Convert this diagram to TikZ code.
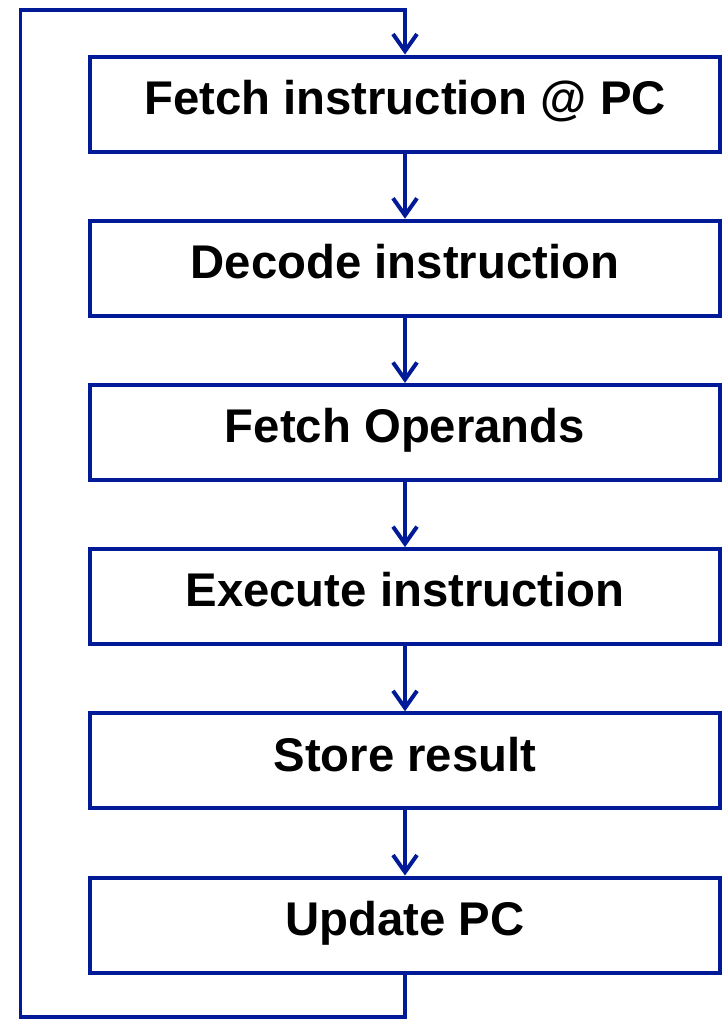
\documentclass[tikz,border=0pt]{standalone}
\usepackage{fontspec}
\setmainfont{Liberation Sans}
\usetikzlibrary{arrows.meta}
\definecolor{flowblue}{RGB}{0,26,152}
\tikzset{
  stagebox/.style={draw=flowblue, line width=4pt, minimum width=630pt, minimum height=95pt,
    inner sep=0pt, text height=34pt, text depth=13.4pt,
    font=\fontsize{47.3}{56}\selectfont\bfseries, text=black},
  flowarrow/.style={draw=flowblue, line width=4pt,
    -{Straight Barb[length=17pt,width=24pt,line width=4pt]}},
  loopline/.style={draw=flowblue, line width=3.5pt, line join=miter}
}
\begin{document}
\begin{tikzpicture}[x=1pt,y=-1pt]
  \useasboundingbox (0,0) rectangle (723,1021);
  \node[stagebox] (s1) at (405,104) {Fetch instruction @ PC};
  \node[stagebox] (s2) at (405,268.2) {Decode instruction};
  \node[stagebox] (s3) at (405,432.4) {Fetch Operands};
  \node[stagebox] (s4) at (405,596.6) {Execute instruction};
  \node[stagebox] (s5) at (405,760.8) {Store result};
  \node[stagebox] (s6) at (405,925) {Update PC};
  \foreach \a/\b in {s1/s2,s2/s3,s3/s4,s4/s5,s5/s6}
    \draw[flowarrow] (\a.south) -- (\b.north);
  \coordinate (lb) at (405,1017);
  \coordinate (ll) at (20.5,1017);
  \coordinate (lt) at (20.5,10);
  \coordinate (rt) at (405,10);
  \draw[loopline] (s6.south) -- (lb) -- (ll) -- (lt) -- (rt);
  \draw[flowarrow] ([yshift=1.75pt]rt) -- (s1.north);
\end{tikzpicture}
\end{document}
